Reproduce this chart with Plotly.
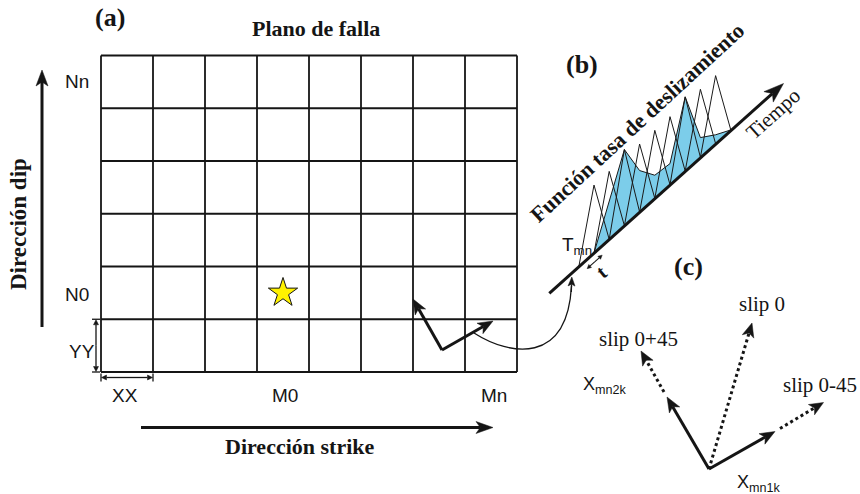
import math
import plotly.graph_objects as go

# ---------------- data ----------------
n_strike_cells = 8          # columns of sub-faults (M0 ... Mn)
n_dip_cells = 6             # rows of sub-faults (N0 ... Nn)
hypocenter_cell = (3, 4)    # (strike index, dip index from top) of the star
pulse_amplitude = [1.0, 1.0, 1.12, 1.0, 1.0, 1.0, 1.09, 1.0, 1.0]   # triangular slip-rate pulses
envelope_time = [1, 2, 3, 4, 5, 6, 7, 8, 9, 10]                    # total slip-rate function
envelope_amplitude = [0.0, 0.56, 1.12, 0.61, 0.34, 0.31, 1.09, 0.29, 0.13, 0.0]
labels_a = {"title": "Plano de falla", "dip": "Dirección dip", "strike": "Dirección strike"}
labels_c = ["slip 0", "slip 0+45", "slip 0-45"]

# ---------------- helpers ----------------
SERIF = "Liberation Serif"
SANS = "Liberation Sans"
INK = "#151515"
shapes, annotations = [], []


def line(x0, y0, x1, y1, w=1.8, color=INK, dash="solid"):
    shapes.append(dict(type="line", x0=x0, y0=y0, x1=x1, y1=y1, xref="x", yref="y",
                       line=dict(color=color, width=w, dash=dash)))


def arrow(x0, y0, x1, y1, w=3, hl=14, hw=11, dash="solid", color=INK, notch=0.25):
    dx, dy = x1 - x0, y1 - y0
    L = math.hypot(dx, dy)
    ux, uy = dx / L, dy / L
    bx, by = x1 - ux * hl, y1 - uy * hl
    nx, ny = bx + ux * hl * notch, by + uy * hl * notch
    line(x0, y0, nx, ny, w=w, color=color, dash=dash)
    p = (f"M {x1} {y1} L {bx - uy * hw / 2} {by + ux * hw / 2} "
         f"L {nx} {ny} L {bx + uy * hw / 2} {by - ux * hw / 2} Z")
    shapes.append(dict(type="path", path=p, xref="x", yref="y", fillcolor=color,
                       line=dict(color=color, width=0.5)))


def text(x, y, s, size=16, family=SERIF, angle=0, color=INK, xanchor="center"):
    annotations.append(dict(x=x, y=y, xref="x", yref="y", text=s, showarrow=False,
                            textangle=angle, xanchor=xanchor, yanchor="middle",
                            font=dict(family=family, size=size, color=color)))


fig = go.Figure()

# ---------------- panel (a): fault plane grid ----------------
gx0, gy0, cw, ch = 101, 55.5, 52, 52.75
for i in range(n_strike_cells + 1):
    line(gx0 + i * cw, gy0, gx0 + i * cw, gy0 + n_dip_cells * ch, w=1.8)
for j in range(n_dip_cells + 1):
    line(gx0, gy0 + j * ch, gx0 + n_strike_cells * cw, gy0 + j * ch, w=1.8)

sx = gx0 + (hypocenter_cell[0] + 0.5) * cw
sy = gy0 + (hypocenter_cell[1] + 0.5) * ch
fig.add_trace(go.Scatter(x=[sx], y=[sy], mode="markers", hoverinfo="skip",
                         marker=dict(symbol="star", size=22, color="#FFF200",
                                     line=dict(color=INK, width=1))))

text(110, 17, "<b>(a)</b>", size=26)
text(316, 28, "<b>" + labels_a["title"] + "</b>", size=22)
text(77, 81, "Nn", size=19, family=SANS)
text(77, 294, "N0", size=19, family=SANS)
text(82, 351, "YY", size=19, family=SANS)
text(125, 395, "XX", size=19, family=SANS)
text(285, 395, "M0", size=19, family=SANS)
text(494, 395, "Mn", size=19, family=SANS)

# dip / strike direction arrows
arrow(42, 327, 42, 70, w=3, hl=16, hw=12)
text(18, 224, "<b>" + labels_a["dip"] + "</b>", size=23, angle=-90)
arrow(141, 427.5, 493, 427.5, w=3, hl=17, hw=12)
text(300, 446, "<b>" + labels_a["strike"] + "</b>", size=22)

# cell size dimensions
y_top, y_bot = gy0 + 5 * ch, gy0 + 6 * ch
arrow(96, (y_top + y_bot) / 2, 96, y_top + 0.5, w=1.3, hl=5, hw=5, notch=0)
arrow(96, (y_top + y_bot) / 2, 96, y_bot - 0.5, w=1.3, hl=5, hw=5, notch=0)
line(92, y_top, 100, y_top, w=1.3)
line(92, y_bot, 100, y_bot, w=1.3)
ydim = 377.5
arrow(127, ydim, gx0 + 0.5, ydim, w=1.3, hl=5, hw=5, notch=0)
arrow(127, ydim, gx0 + cw - 0.5, ydim, w=1.3, hl=5, hw=5, notch=0)
line(gx0, ydim - 4, gx0, ydim + 4, w=1.3)
line(gx0 + cw, ydim - 4, gx0 + cw, ydim + 4, w=1.3)

# rake vectors on a sub-fault
arrow(442, 350, 413, 299, w=3, hl=15, hw=12)
arrow(442, 350, 493, 321, w=3, hl=15, hw=12)

# connector to the time axis
shapes.append(dict(type="path", path="M 474 333 C 510 356, 567 365, 571.5 286",
                   xref="x", yref="y", line=dict(color=INK, width=1.3)))
arrow(571.3, 292, 571.8, 277, w=1.3, hl=9, hw=7, notch=0.2)

# ---------------- panel (b): slip-rate function ----------------
AX0, AY0, SLOPE = 549.3, 293.3, 0.9
U0, DU, AMP = 578.8, 15.2, 68.0


def axis_y(x):
    return AY0 - SLOPE * (x - AX0)


def to_screen(u, a):
    x = U0 + DU * u
    return x, axis_y(x) - AMP * a


ex, ey = zip(*[to_screen(u, a) for u, a in zip(envelope_time, envelope_amplitude)])
fig.add_trace(go.Scatter(x=list(ex), y=list(ey), mode="lines", fill="toself",
                         fillcolor="#7CCDEA", line=dict(color="#1a1a1a", width=1),
                         hoverinfo="skip"))
for k, a in enumerate(pulse_amplitude):
    pts = [to_screen(k, 0), to_screen(k + 1, a), to_screen(k + 2, 0)]
    fig.add_trace(go.Scatter(x=[p[0] for p in pts], y=[p[1] for p in pts], mode="lines",
                             line=dict(color="#1a1a1a", width=1), hoverinfo="skip"))

arrow(AX0, AY0, 783.5, axis_y(783.5) + 1, w=3, hl=20, hw=14)
text(582, 64, "<b>(b)</b>", size=26)
text(637, 122, "<b>Función tasa de deslizamiento</b>", size=22, angle=-42.7)
text(773, 114, "Tiempo", size=21, angle=-42)
text(577, 246, "T<sub>mn</sub>", size=19, family=SANS)

# pulse duration t
tx0, tx1 = 582.5, 597.5
off = 7
arrow((tx0 + tx1) / 2 + 0.667 * off, (axis_y(tx0) + axis_y(tx1)) / 2 + 0.745 * off,
      tx0 + 0.667 * off, axis_y(tx0) + 0.745 * off, w=1.1, hl=4, hw=4, notch=0)
arrow((tx0 + tx1) / 2 + 0.667 * off, (axis_y(tx0) + axis_y(tx1)) / 2 + 0.745 * off,
      tx1 + 0.667 * off, axis_y(tx1) + 0.745 * off, w=1.1, hl=4, hw=4, notch=0)
text(601, 272, "<b>t</b>", size=20, angle=-40)

# ---------------- panel (c): rake directions ----------------
ox, oy = 709, 469
text(688, 266, "<b>(c)</b>", size=26)
arrow(ox, oy, 667, 397, w=3, hl=15, hw=12)
arrow(664, 392, 641, 351, w=3, hl=14, hw=12, dash="dot")
arrow(ox, oy, 752, 323, w=3, hl=14, hw=12, dash="dot")
arrow(ox, oy, 775, 431.5, w=3, hl=15, hw=12)
arrow(780, 428.5, 823.5, 402.5, w=3, hl=14, hw=12, dash="dot")
text(762, 304, labels_c[0], size=21)
text(638, 339, labels_c[1], size=21)
text(820, 385, labels_c[2], size=21)
text(605, 385, "X<sub>mn2k</sub>", size=18, family=SANS)
text(759, 483, "X<sub>mn1k</sub>", size=18, family=SANS)

fig.update_layout(
    width=860, height=494, margin=dict(l=0, r=0, t=0, b=0),
    paper_bgcolor="white", plot_bgcolor="white", showlegend=False,
    xaxis=dict(range=[0, 860], visible=False, fixedrange=True),
    yaxis=dict(range=[494, 0], visible=False, fixedrange=True),
    shapes=shapes, annotations=annotations,
)
fig.write_html("out.html")
